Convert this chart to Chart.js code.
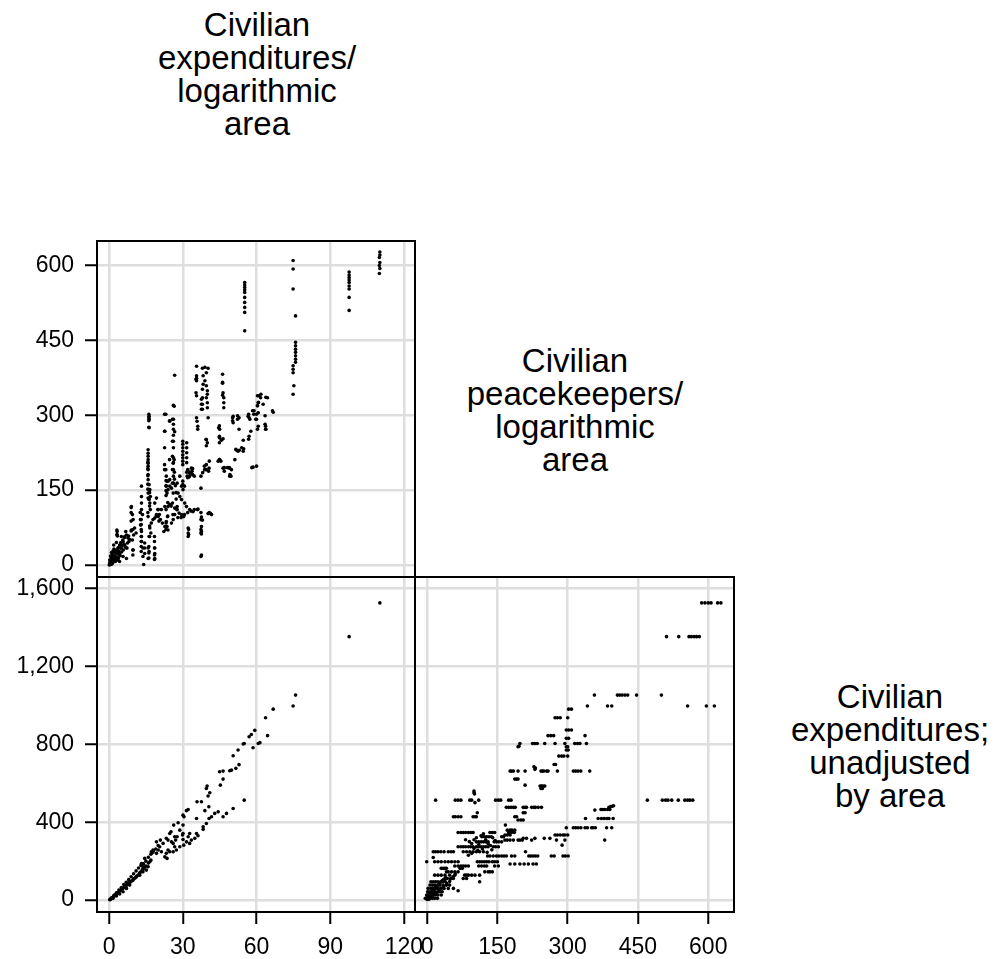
<!DOCTYPE html>
<html>
<head>
<meta charset="utf-8">
<script src="https://cdn.jsdelivr.net/npm/chart.js@4.4.1/dist/chart.umd.min.js"></script>
<style>
  body { margin: 0; background: #fff; width: 1000px; height: 959px; position: relative; overflow: hidden; font-family: "Liberation Sans", Arial, sans-serif; }
  canvas { position: absolute; left: 0; top: 0; }
  .diag { position: absolute; width: 320px; text-align: center; font-size: 33px; line-height: 33px; color: #000; }
</style>
</head>
<body>
<div class="diag" id="lab0" style="left:97px; top:8px;"></div>
<div class="diag" id="lab1" style="left:415px; top:344px;"></div>
<div class="diag" id="lab2" style="left:730px; top:680px;"></div>
<canvas id="cA" width="1000" height="959"></canvas>
<canvas id="cB" width="1000" height="959"></canvas>
<canvas id="cC" width="1000" height="959"></canvas>
<script>
// --- rótulos da diagonal ---
const varLabels = [
  ['Civilian', 'expenditures/', 'logarithmic', 'area'],
  ['Civilian', 'peacekeepers/', 'logarithmic', 'area'],
  ['Civilian', 'expenditures;', 'unadjusted', 'by area']
];

// --- ticks ---
const expLogTicks = [0, 30, 60, 90, 120];
const peaceLogTicks = [0, 150, 300, 450, 600];
const expRawTicks = [0, 400, 800, 1200, 1600];

// --- pontos ---
// painel A: x = expenditures/log area, y = peacekeepers/log area
const peaceByExpLog = [
  [110.2,627],[110.2,621],[110.0,616],[110.2,606],[110.0,600],[110.2,594],[110.0,584],
  [97.7,587],[97.7,581],[97.7,576],[97.7,571],[97.7,566],[97.7,559],[97.7,553],[97.7,536],[97.7,510],
  [74.9,610],[74.9,593],[74.9,553],[74.9,399],[74.9,392],[74.9,385],[75.2,359],[74.9,342],
  [75.9,499],[75.9,446],[75.9,439],[75.9,432],[75.9,426],[75.9,419],[75.9,412],[75.9,406],
  [55.2,566],[55.2,561],[55.2,556],[55.2,551],[55.2,546],[55.2,536],[55.2,526],[55.2,516],[55.2,506],[55.2,469],
  [35.6,398],[35.6,379],[35.6,374],[35.6,369],[35.6,339],[35.6,295],[35.8,288],[36.1,278],[36.1,272],
  [38,394],[39,396],[40.3,394],[38.3,379],[39.6,385],[39,369],[38.3,362],[39.6,359],[38,352],[40,349],[40,342],
  [39.6,335],[38,335],[40,325],[38,322],[40,315],[38,312],[40.3,295],[39.6,251],[40,245],[39.6,239],
  [46.2,382],[46.2,364],[46.4,345],[46.7,335],[46.7,325],[46.7,315],
  [26.7,380],[26.5,318],[16.3,298],[16.3,292],[16.3,275],[23.1,302],[24.7,288],[25.8,292],[22.7,268],[26.7,267],[25.8,248],
  [50.5,298],[50.5,285],[52.9,295],[52.9,272],[56.6,298],[57.3,292],[58.9,302],[60.7,305],[60.7,325],[61.8,342],
  [61.7,335],[62.7,322],[64.5,335],[60.7,278],[63.7,278],[63.7,272],[66.8,306],
  [54.6,250],[54.8,233],[51.9,230],[52.5,228],[45,272],[45,255],[45.7,250],[46.4,253],[44.4,208],[45,211],[46.4,194],
  [49.1,194],[49.8,191],[49.1,178],[51.2,211],[58.6,196],[60,198],[39.6,201],[40.7,194],[38.9,191],
  [26.2,292],[26.2,282],[26.2,272],[26.2,260],[26.2,248],[26.2,235],[26.2,215],[26.2,205],[26.2,191],[26.2,178],[26.2,164],
  [30,248],[30,242],[30,235],[30,228],[30,221],[30,215],[30,208],[30,201],
  [31.6,245],[31.6,235],[31.6,225],[31.6,215],[31.6,205],
  [37.6,332],[37.6,322],[37.6,312],
  [39.5,252],[44.9,255],[44.6,275],[50.3,295],[50.3,289],[52.3,299],[52.3,292],[56.8,302],[57,295],[59,309],[60,302],
  [60,292],[61,339],[60.8,326],[60.4,319],[63.5,299],[63.5,282],[63.8,272],[66.5,309],[60.4,272],[57.7,268],[57,258],
  [56.8,252],[54,235],[54.6,228],[51.6,232],[53,230],[44.9,211],[45.5,208],[46.9,195],[46.9,188],[48.9,195],[49.2,181],
  [58.1,195],[40.5,188],[38.8,198],[39.5,191],[40.8,208],[38.1,185],[37.4,178],[33.8,188],[32.7,178],[32,175],[34,181],
  [30,168],[30,161],[30.7,158],[37.4,154],
  [32.2,188],[32.8,184],[31.8,178],[33.5,194],[28.8,178],[27.7,164],[29.5,158],[30.1,151],[28.1,144],[28.8,137],
  [29.5,131],[30.8,124],[31.5,117],[32.8,111],[34.2,107],[27.7,111],[28.5,104],[29.5,101],[30.4,97],[26.7,101],
  [26.1,91],[25.4,84],[23.8,97],[23.3,87],[23.6,77],[24,70],[22.7,77],[22.3,67],[21.7,84],[20.9,91],[20,97],
  [18.6,94],[17.9,91],[17.2,84],[16.6,74],[17,64],[16.3,57],
  [15.9,144],[15.9,134],[16.6,124],[16.8,111],[15.9,97],
  [13.2,158],[13.2,137],[13.2,124],[13.2,111],[13.6,101],[12.8,91],[12.8,80],[13.2,67],[13.2,57],[13.2,47],[13.8,34],
  [14.5,44],[14.5,34],[14.5,23],[15.9,34],[16.3,27],[15.9,13],[18.6,34],[18.6,23],[18.6,13],
  [9.1,117],[9.5,101],[9.8,91],[9.1,70],[10,60],[9.5,50],[9.8,30],
  [6.8,67],[7.1,60],[7.7,54],[8.1,47],[6.4,40],[7.3,34],
  [5,57],[5.7,47],[4.6,40],[3.7,34],[3,27],[4.3,23],[1.6,20],[3.3,67],[3.3,60],
  [1.9,40],[2.3,30],[1.4,13],[0.9,7],[0.5,3],[0.3,1],[1.9,10],[3,10],[3.7,13],[4.3,7],[5.7,17],[7.1,13],
  [14.1,1],[37.6,20],[37.6,77],[37.6,67],[37.6,62],[37.6,96],[38,90],[32.2,74],[32.2,64],[32.2,57],[36.2,112],
  [40.3,103],[41.3,103],[41.7,101],
  [21.3,111],[22.7,117],[24,117],[24.7,121],[25.8,124],[26.7,114],[27.7,117],
  [24.7,158],[25.4,154],[26.1,144],[25.8,164],[24.7,171],[25.8,191],[26.1,204],[26.5,211],[25.8,218],[23.6,168],
  [23.3,158],[23.6,144],[19.3,134],[18.6,124],[20,111],[19.3,101],[16.3,161],[16.6,151],[16.8,137],[16.3,131],
  [15.9,231],[15.9,224],[15.9,218],[15.9,211],[15.9,204],[15.9,198],[15.9,191],[15.9,181],[15.9,171],
  [23.1,191],[23.3,178],[24,168],[24,151],
  [16.2,302],[16.2,295],[16.2,289],[16.2,276],[22.6,302],[22.6,268],[22.6,235],[22.6,201],[22.6,191],[24.6,289],
  [24.6,211],[26.2,320],[32,191],[33.4,185],[34.7,178],[35.4,372],[35.4,345],[46.2,366],[46.2,340],[44.9,279],
  [44.9,258],[44.9,245],[48.2,195],[49.6,178],[58.4,309],[59.7,292],[60.4,339],[60.4,319],[63.8,336],
  [3.2,70],[3.2,61],[6.4,57],[9,68],[9.7,71],[10.4,74],[11,64],[8.4,51],[9.7,30],[9.7,20],[7,34],[9,115],[9,105],[9,88],
  [12.7,105],[13.1,91],[13.1,81],[13.1,71],[13.1,57],[13.1,47],[13.1,37],[13.1,27],[13.8,17],
  [15.8,206],[15.8,193],[15.8,179],[15.8,162],[15.8,152],[16.5,145],[16.2,132],[16.5,118],[15.8,105],[16.5,78],
  [16.5,57],[16.2,37],[16.2,24],[16.2,14],
  [18.5,57],[18.5,47],[18.5,34],[18.5,20],[18.5,11],[19.9,111],[19.2,98],[20.5,101],[20.3,88],
  [23.2,169],[23.2,159],[23.2,149],[23.2,139],[23.9,125],[23.2,111],[23.9,98],[23.2,84],[23.2,71],
  [26.6,186],[26.6,172],[27,159],[27.3,145],[27.3,132],[27.6,111],[28,95],[26,101],[25.3,118],
  [29.3,95],[30.7,101],[32,105],[33.4,108],[34.7,111],[31.6,186],[32.4,176],[33.4,186],[34,193],[32.4,71],[32.4,61],[36,111],
  [37.4,105],[37.4,91],[37.4,71],[37.4,64],[37.4,17],[40.8,105],
  [0.2,2],[0.5,5],[0.8,1],[1,8],[1.2,12],[1.5,4],[1.8,15],[2,20],[2.2,9],[2.5,18],[2.8,25],[3,14],[3.2,30],[3.5,22],
  [3.8,35],[4,28],[4.3,40],[4.5,19],[4.8,45],[5,33],[5.3,38],[5.6,50],[6,42],[6.3,55],[1,25],[2,32],[3,45],[3.4,58],
  [0.3,10],[0.6,18],[1.4,20],[2.6,7],[3.6,10],[4.2,25],[5.8,30],[0.1,0],[0.4,6],[0.7,3],[1.1,2],[2.4,14],[3.9,16],
  [5.1,26],[6.6,36],[7.5,44],[8,58],[1.6,28],[2.1,26],[0.9,15]
];

// painel B: x = expenditures/log area, y = expenditures (sem ajuste)
const rawByExpLog = [
  [110.2,1525],[97.7,1352],[75.9,1052],[74.9,996],[66.8,980],[63.7,936],[64.5,844],[59.3,871],[57.9,850],[57,838],
  [61.4,808],[60.7,804],[58.6,782],[55,804],[54.6,801],[52.5,770],[50.5,741],[52.9,695],[51.6,676],[49.1,664],
  [49.8,667],[46.4,662],[45,659],[46.4,621],[45.3,590],[39.9,585],[39.6,573],[41,551],[40.3,534],[35.8,505],
  [37.6,505],[32.2,465],[31.5,459],[30.1,436],[30.5,428],[28.1,397],[26.3,385],[24.7,342],[25.2,351],[24,308],
  [23.3,317],[22,291],[20.9,308],[26.7,325],[27.7,325],[27.1,308],[25.4,299],[26.1,291],[30.1,342],[30.1,311],
  [32.2,325],[31.5,299],[19.3,299],[17.9,257],[17.6,243],[17.2,248],[14.5,214],[13.8,188],[13.8,171],[15.2,154],
  [13.8,145],[13.2,188],[15.9,171],[16.6,197],[12.5,128],[11.1,120],[9.8,103],[8.4,77],[7.1,60],[5.7,43],[4.3,31],
  [3,21],[1.6,9],[0.5,3],[23.3,240],[22.7,222],[24,257],[24.7,248],[23.6,214],[26.7,274],[27.4,257],[26.1,248],
  [28.8,274],[30.4,282],[32.8,291],[34.9,317],[33.5,308],[35.6,342],[36.2,330],[38.3,363],[38.3,376],[39.6,393],
  [40.7,419],[41.7,428],[43,445],[44.4,453],[46.4,428],[47.8,445],[50.5,470],[55,513],[35.6,419],[39,459],[40.6,479],
  [30.1,385],[28.8,359],[29.9,334],[32.8,342],[20,257],[20.6,274],[19.3,240],[21.3,248],
  [1,12],[2,25],[3,38],[4,52],[5,65],[6,80],[7,92],[8,105],[9,120],[10,135],[11,150],[12,165],[1.5,15],[2.5,27],
  [3.5,36],[4.5,47],[5.5,58],[6.5,70],[7.5,80],[8.5,90],[9.5,100],[10.5,112],[11.5,125],[12.5,140],[13.5,155],
  [14.5,168],[2,20],[3,31],[4,42],[5,55],[6,64],[7,75],[8,88],[9,97],[10,110],[11,118],[12,130],[13,145],[14,160],
  [15,175],[16,190],[17,205],[0.5,5],[0.3,2],[1.2,10],[16,220],[17,235],[18,250],[19,262],[20,280],[15,200],[14,185],[13,178]
];

// painel C: x = peacekeepers/log area, y = expenditures (sem ajuste)
const rawByPeaceLog = [
  [586,1525],[593,1525],[600,1525],[606,1525],[620,1525],[627,1525],
  [511,1352],[537,1352],[559,1352],[564,1352],[570,1352],[575,1352],[581,1352],
  [357,1052],[406,1052],[411,1052],[416,1052],[422,1052],[428,1052],[447,1052],[500,1052],
  [342,996],[385,996],[394,996],[556,996],[596,996],[613,996],
  [302,980],[308,980],[273,936],[278,936],[284,936],[300,936],[297,873],[302,873],[308,873],
  [258,844],[264,844],[270,844],[337,844],[297,830],[302,830],
  [198,804],[225,804],[230,804],[235,804],[251,804],[273,804],[294,804],[315,804],[321,804],[326,804],[340,804],
  [194,787],[196,790],[297,787],[300,787],[297,770],[301,770],[281,739],[287,739],[292,739],[300,739],
  [271,696],[274,696],[228,684],[230,671],[231,678],
  [177,662],[180,662],[184,662],[194,662],[209,662],[243,662],[246,662],[249,662],[255,662],[258,662],[278,662],
  [312,662],[317,662],[322,662],[328,662],[347,662],
  [187,621],[191,621],[194,621],[209,590],[241,585],[244,585],[247,585],[251,585],[243,573],[246,573],
  [100,551],[100,560],[101,545],
  [18,513],[60,513],[66,513],[72,513],[91,513],[95,513],[110,513],[146,513],[152,513],[157,513],[174,513],[179,513],
  [470,513],[502,513],[509,513],[514,513],[522,513],[536,513],[550,513],[556,513],[561,513],[567,513],
  [102,500],
  [169,476],[174,476],[179,476],[184,476],[188,476],[205,476],[209,476],[212,476],[223,476],[228,476],[231,476],
  [237,476],[244,476],[388,476],[392,480],[395,482],[398,484],
  [371,465],[375,465],[379,465],[385,465],[390,465],[358,462],[205,448],[209,448],[107,448],
  [56,428],[60,428],[66,428],[72,428],[98,428],[102,428],[105,428],[187,428],[191,428],
  [338,419],[365,419],[372,419],[378,419],[384,419],[388,419],[397,419],[194,411],[200,411],[205,411],[167,385],
  [297,371],[312,371],[317,371],[322,371],[328,371],[337,371],[342,371],[351,371],[354,371],[359,371],[383,371],[394,371],
  [171,359],[177,359],[181,359],[187,359],
  [66,347],[72,347],[77,347],[82,347],[88,347],[93,347],[98,347],[134,347],[139,347],[144,347],[174,347],[180,347],[186,347],
  [273,334],[278,334],[284,334],[290,334],[294,334],[300,334],[166,334],[171,334],[177,334],
  [117,325],[122,325],[127,325],[132,325],[137,325],[159,325],[163,325],
  [205,317],[212,317],[230,317],[250,317],[262,317],
  [166,308],[171,308],[177,308],[184,308],[194,308],[198,308],[203,308],[223,308],[276,308],[294,308],[379,308],
  [105,299],[110,299],[115,299],[120,299],[125,299],[130,299],[143,299],[148,299],[153,299],[159,299],[288,282],
  [66,274],[72,274],[77,274],[82,274],[88,274],[93,274],[98,274],[105,274],[110,274],[115,274],[120,274],[125,274],
  [130,274],[141,274],[146,274],[152,274],
  [13,248],[18,248],[23,248],[29,248],[36,248],[45,248],[51,248],[56,248],[77,248],[84,248],[91,248],[98,248],
  [105,248],[112,248],[120,248],[210,248],
  [129,226],[134,226],[141,226],[148,226],[153,226],[159,226],[164,226],[169,226],[180,226],[187,226],[217,226],
  [221,226],[226,226],[231,226],[236,226],[265,226],[271,226],[290,226],[295,226],[301,226],[13,219],
  [-1,197],[16,197],[23,197],[30,197],[38,197],[45,197],[52,197],[59,197],[66,197],[107,197],[112,197],[117,197],
  [122,197],[127,197],[132,197],[139,197],[144,197],[150,197],
  [177,185],[187,185],[198,185],[207,185],[216,185],[226,185],[233,185],
  [59,175],[66,175],[72,175],[77,175],[82,175],[88,175],[110,175],[116,175],[122,175],[127,175],[144,175],[152,175],
  [30,163],[34,163],[38,163],[41,163],[70,163],[75,163],
  [41,145],[45,145],[52,145],[59,145],[66,145],[123,145],[130,145],[134,145],[139,145],
  [16,128],[23,128],[30,128],[38,128],[48,128],[59,128],[80,128],[84,128],[88,128],[95,128],[102,128],[112,128],
  [38,111],[43,111],[51,111],[56,111],[77,111],[84,111],
  [8,94],[13,94],[18,94],[23,94],[29,94],[34,94],[39,94],[112,94],
  [6,77],[11,77],[16,77],[22,77],[27,77],[34,77],[41,77],[48,77],
  [2,60],[8,60],[13,60],[18,60],[23,60],[29,60],[36,60],[45,60],[56,60],[66,48],
  [1,43],[6,43],[11,43],[16,43],[22,43],[27,43],[32,43],
  [-1,26],[2,26],[8,26],[13,26],[18,26],[23,26],[30,26],
  [-4,9],[1,9],[6,9],[11,9],[16,9],[22,9],
  [90,300],[95,290],[100,310],[105,320],[110,285],[115,330],[120,340],[125,310],[130,290],[135,280],[100,265],
  [108,255],[118,262],[128,245],[138,258],[95,240],[88,230],[82,310],[140,320],[145,305],
  [0,15],[3,20],[5,30],[8,35],[10,40],[12,50],[15,55],[18,65],[20,70],[25,80],[28,90],[32,100],[35,105],[40,115],
  [4,5],[7,12],[10,18],[14,28],[20,38],[26,50],[30,60],[35,70],[42,85],[48,95],[50,110],[55,120],[60,135],[0,3],[2,12]
];

// --- montagem ---
const tickFont = { family: '"Liberation Sans", Arial, sans-serif', size: 23 };
const fmt = v => String(v).replace(/\B(?=(\d{3})+(?!\d))/g, ',');

varLabels.forEach((lines, i) => {
  document.getElementById('lab' + i).innerHTML = lines.join('<br>');
});

const framePlugin = {
  id: 'frame',
  afterDatasetsDraw(chart) {
    const { ctx, chartArea: a } = chart;
    ctx.save();
    ctx.strokeStyle = '#000';
    ctx.lineWidth = 2;
    ctx.strokeRect(a.left, a.top, a.right - a.left, a.bottom - a.top);
    ctx.restore();
  }
};

function axis(range, ticks, show, fitSize, isX) {
  return {
    type: 'linear',
    min: range[0],
    max: range[1],
    afterBuildTicks: s => { s.ticks = ticks.map(v => ({ value: v })); },
    afterFit: s => { if (isX) s.height = fitSize; else s.width = fitSize; },
    ticks: { display: show, font: tickFont, color: '#000', padding: isX ? 10 : 11, autoSkip: false, maxRotation: 0, callback: v => fmt(v) },
    grid: { color: '#dedede', lineWidth: 2.5, drawTicks: show, tickLength: 12, tickColor: '#000', tickWidth: 2 },
    border: { display: false }
  };
}

// box = [left, top, right, bottom] da área do gráfico
function painel(id, pts, xRange, xTicks, yRange, yTicks, box, showX, showY) {
  const xAxisH = 47;
  new Chart(document.getElementById(id), {
    type: 'scatter',
    data: {
      datasets: [{
        data: pts.map(p => ({ x: p[0], y: p[1] })),
        pointRadius: 1.8,
        pointHoverRadius: 1.8,
        pointBackgroundColor: '#000',
        pointBorderWidth: 0
      }]
    },
    options: {
      responsive: false,
      animation: false,
      events: [],
      plugins: { legend: { display: false }, tooltip: { enabled: false } },
      layout: {
        padding: {
          left: showY ? 0 : box[0],
          top: box[1],
          right: 1000 - box[2],
          bottom: showX ? 959 - box[3] - xAxisH : 959 - box[3]
        }
      },
      scales: {
        x: axis(xRange, xTicks, showX, showX ? xAxisH : 0, true),
        y: axis(yRange, yTicks, showY, showY ? box[0] : 0, false)
      }
    },
    plugins: [framePlugin]
  });
}

painel('cA', peaceByExpLog, [-4.9, 124.5], expLogTicks, [-24, 649], peaceLogTicks, [97, 241, 415, 577], false, true);
painel('cB', rawByExpLog, [-4.9, 124.5], expLogTicks, [-61, 1658], expRawTicks, [97, 577, 415, 912], true, true);
painel('cC', rawByPeaceLog, [-26, 655], peaceLogTicks, [-61, 1658], expRawTicks, [415, 577, 734, 912], true, false);
</script>
</body>
</html>
